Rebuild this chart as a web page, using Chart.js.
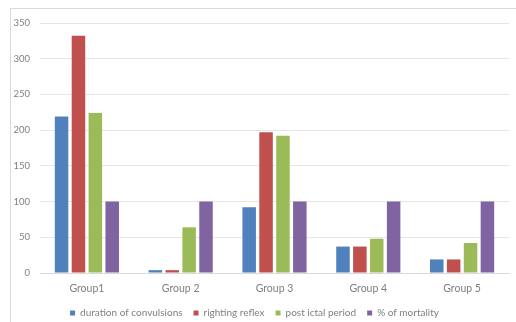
<!DOCTYPE html>
<html>
<head>
<meta charset="utf-8">
<script src="https://cdn.jsdelivr.net/npm/chart.js@4/dist/chart.umd.min.js"></script>
<style>
  html, body { margin: 0; padding: 0; background: #ffffff; overflow: hidden; }
  #frame { position: absolute; left: 10px; top: 8px; width: 600px; height: 400px; border: 1px solid #d9d9d9; }
  #wrap { position: absolute; left: 0; top: 0; width: 516px; height: 322px; }
</style>
</head>
<body>
<div id="frame"></div>
<div id="wrap"><canvas id="c" width="516" height="322"></canvas></div>
<script>
// Categories and series values
const groups = ['Group1', 'Group 2', 'Group 3', 'Group 4', 'Group 5'];
const durationOfConvulsions = [219, 4, 92, 37, 19];
const rightingReflex = [332, 4, 197, 37, 19];
const postIctalPeriod = [224, 64, 192, 48, 42];
const mortalityPercent = [100, 100, 100, 100, 100];
const yTicks = [0, 50, 100, 150, 200, 250, 300, 350];

const seriesNames = ['duration of convulsions', 'righting reflex', 'post ictal period', '% of mortality'];
const seriesColors = ['#4F81BD', '#C0504D', '#9BBB59', '#8064A2'];
const seriesValues = [durationOfConvulsions, rightingReflex, postIctalPeriod, mortalityPercent];

const textColor = '#7f7f7f';
const fontFamily = 'Lato, "Open Sans", sans-serif';

new Chart(document.getElementById('c'), {
  type: 'bar',
  data: {
    labels: groups,
    datasets: seriesNames.map((name, i) => ({
      label: name,
      data: seriesValues[i],
      backgroundColor: seriesColors[i],
      borderWidth: 0,
      categoryPercentage: 0.72,
      barPercentage: 0.8
    }))
  },
  options: {
    responsive: false,
    animation: false,
    layout: { padding: { left: 0, right: 7, top: 23, bottom: -6 } },
    plugins: {
      tooltip: { enabled: false },
      legend: {
        position: 'bottom',
        labels: {
          boxWidth: 5,
          boxHeight: 5,
          padding: 11,
          color: textColor,
          font: { family: fontFamily, size: 10 }
        }
      }
    },
    scales: {
      x: {
        grid: { display: false, drawTicks: false },
        border: { color: '#d9d9d9' },
        ticks: { color: textColor, font: { family: fontFamily, size: 10.5 }, padding: 9 },
        afterFit: (scale) => { scale.height = 24; }
      },
      y: {
        min: 0,
        max: 350,
        afterBuildTicks: (scale) => { scale.ticks = yTicks.map(v => ({ value: v })); },
        afterFit: (scale) => { scale.width = 40; },
        grid: { color: '#e6e6e6', drawTicks: false },
        border: { display: false },
        ticks: { color: textColor, font: { family: fontFamily, size: 9.5 }, padding: 10 }
      }
    }
  }
});
</script>
</body>
</html>
